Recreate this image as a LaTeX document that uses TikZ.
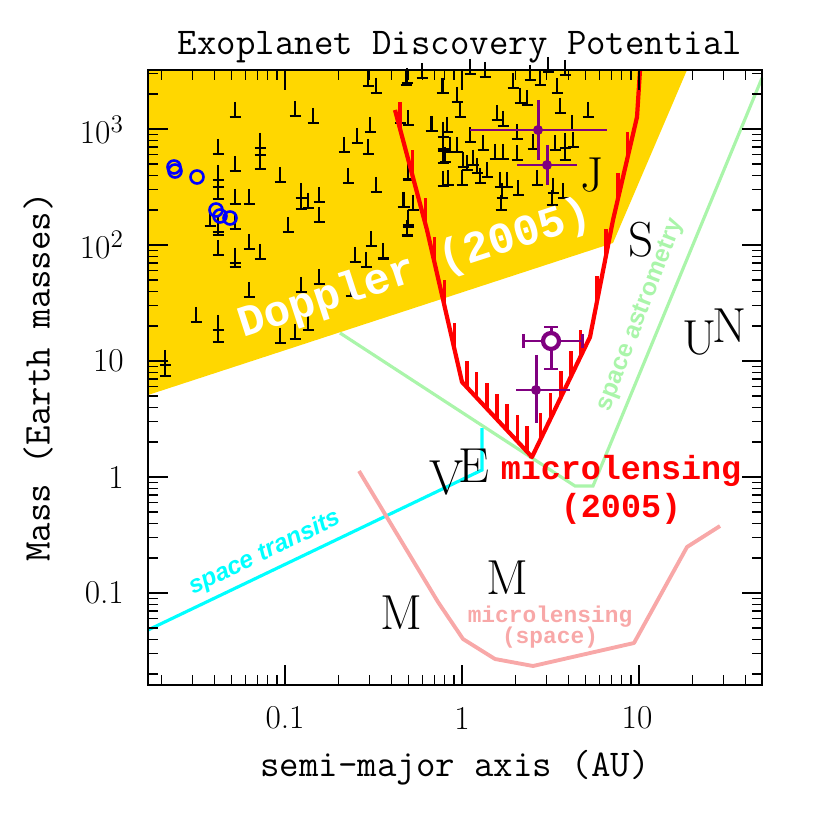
\documentclass[tikz,border=0pt]{standalone}
\usepackage{fontspec}
\newfontfamily\cour{Liberation Mono}
\newfontfamily\lsans{Liberation Sans}
\usetikzlibrary{calc}
\definecolor{dopp}{HTML}{FFD700}
\definecolor{pur}{HTML}{800080}
\definecolor{lgreen}{HTML}{AAF5AA}
\definecolor{pinkc}{HTML}{F8A8A8}
\definecolor{cyn}{HTML}{00FFFF}
\tikzset{
  mk/.style={line width=1.1pt,black},
  redc/.style={red,line width=2.4pt,line join=round},
  hatch/.style={red,line width=2pt},
  errb/.style={pur,line width=1.7pt},
  bigl/.style={font=\fontsize{28}{30}\selectfont,inner sep=0pt},
  tick/.style={line width=0.7pt},
  tl/.style={font=\fontsize{19}{21}\selectfont},
  ttl/.style={font=\ttfamily\fontsize{21.5}{24}\selectfont},
}
\begin{document}
\begin{tikzpicture}[x=0.02cm,y=-0.02cm]
\useasboundingbox (0,0) rectangle (830,830);
% green lines (under yellow)
\draw[lgreen,line width=1.8pt] (340,333) -- (575,486) -- (593,486) -- (762,78);
% Doppler region
\fill[dopp] (148,395) -- (613,243) -- (687,70) -- (148,70) -- cycle;
% markers
\foreach \x/\y in {235/117,295/116,313/123,218/154,235/171,260/169,260/148,260/155,280/182,348/183,376/192,370/132,357/143,344/152,368/154,218/180,218/187,218/199,235/204,249/204,301/198,308/208,301/209,319/202,319/222,288/232,218/232,218/235,210/226,235/229,218/255,235/263,235/267,249/249,260/259,249/297,301/292,319/284,355/262,366/267,371/246,383/259,351/296,196/322,218/330,218/342,280/343,295/339,308/330,408/179,404/207,413/210,408/225,407/236,431/131,443/151,443/163,443/186,443/137,400/123,408/125,443/93,376/93,368/86,406/85,165/365,165/376,
407/83,442/93,457/102,460/117,470/74,485/77,513/88,520/103,527/105,540/85,557/93,560/113,565/75,588/117,432/131,447/132,443/149,450/152,457/152,445/162,470/142,483/150,497/120,503/126,495/159,503/159,517/160,517/139,533/149,555/150,565/148,573/147,572/130,463/167,467/170,473/165,477/173,462/185,448/185,480/183,487/177,500/187,507/187,518/195,502/198,501/210,537/185,553/193,552/205,563/198,565/160,408/180,403/207,413/210,408/227,407/235,383/258,530/80,548/72,422/78}
  \draw[mk] (\x,\y-15) -- (\x,\y) (\x-5.5,\y) -- (\x+5.5,\y);
% blue circles
\foreach \x/\y in {174/167,175/171,197/177,216/210,220/216,230/218}
  \draw[blue,line width=1.5pt] (\x,\y) circle (6.5);
% Doppler text
\node[white,rotate=18,font=\cour\bfseries\fontsize{25}{26}\selectfont] (dop) at (415,270) {Doppler (2005)};
% cyan transits
\draw[cyn,line width=1.8pt] (148,630) -- (482,470) -- (482,428);
\node[cyn,rotate=25.6,font=\lsans\bfseries\itshape\fontsize{14}{16}\selectfont] (tr) at (265,553) {space transits};
\node[lgreen,rotate=69,font=\lsans\bfseries\fontsize{14}{16}\selectfont] (ast) at (641,315) {space astrometry};
% pink microlensing space
\draw[pinkc,line width=2.2pt,line join=round] (359,471) -- (438,602) -- (463,639) -- (495,659) -- (533,666) -- (634,643) -- (687,547) -- (720,526);
\node[pinkc,font=\cour\bfseries\fontsize{13}{14}\selectfont,align=center] (mls) at (550,627) {microlensing\\[-2pt](space)};
% red microlensing curve
\coordinate (P1) at (395,110); \coordinate (P2) at (427,230); \coordinate (P3) at (462,382);
\coordinate (P4) at (532,457); \coordinate (P5) at (590,337); \coordinate (P6) at (613,220);
\coordinate (P7) at (637,117); \coordinate (P8) at (640,70);
\foreach \a/\b/\fl in {P1/P2/{0.15,0.55,0.95},P2/P3/{0.22,0.5,0.78},P3/P4/{0.07,0.21,0.36,0.5,0.64,0.79,0.93},P4/P5/{0.15,0.32,0.5,0.67,0.84},P5/P6/{0.3,0.7},P6/P7/{0.2,0.6}}
  \foreach \f in \fl
    \draw[hatch] ($(\a)!\f!(\b)$) -- ++(0,-26);
\draw[redc] (P1) -- (P2) -- (P3) -- (P4) -- (P5) -- (P6) -- (P7) -- (P8);
\node[red,font=\cour\bfseries\fontsize{19}{22}\selectfont,align=center] (ml) at (621,490) {microlensing\\(2005)};
% purple points
\draw[errb] (470,130) -- (607,130) (538,100) -- (538,160);
\fill[pur] (538,130) circle (5);
\draw[errb] (517,165) -- (577,165) (547,145) -- (547,185);
\fill[pur] (547,165) circle (5);
\draw[errb] (523,341) -- (542,341) (560,341) -- (582,341) (551,327) -- (551,332) (551,350) -- (551,369)
  (523,334) -- (523,348) (582,334) -- (582,348) (544,327) -- (558,327) (544,369) -- (558,369);
\draw[pur,line width=2.4pt] (551,341) circle (8);
\draw[errb] (516,390) -- (570,390) (536,355) -- (536,423);
\fill[pur] (536,390) circle (5);
% planet letters
\node[bigl] (J) at (592,175) {J};
\node[bigl] (S) at (641,240) {S};
\node[bigl] (U) at (700,338) {U};
\node[bigl] (N) at (730,326) {N};
\node[bigl] (V) at (447,478) {V};
\node[bigl] (E) at (474,466) {E};
\node[bigl] (M1) at (401,613) {M};
\node[bigl] (M2) at (507,578) {M};
% axes ticks
\foreach \k in {-2,-1,0,1}{
  \foreach \m in {1,...,9}{
    \pgfmathsetmacro\px{462+177*(\k+log10(\m))}
    \pgfmathsetmacro\len{ifthenelse(\m==1,20,10)}
    \ifdim\px pt>149pt \ifdim\px pt<761pt
      \draw[tick] (\px,685) -- (\px,685-\len) (\px,70) -- (\px,70+\len);
    \fi\fi
  }}
\foreach \k in {-2,-1,0,1,2,3}{
  \foreach \m in {1,...,9}{
    \pgfmathsetmacro\py{477-116*(\k+log10(\m))}
    \pgfmathsetmacro\len{ifthenelse(\m==1,20,10)}
    \ifdim\py pt>71pt \ifdim\py pt<684pt
      \draw[tick] (148,\py) -- (148+\len,\py) (762,\py) -- (762-\len,\py);
    \fi\fi
  }}
\draw[line width=1.1pt] (148,70) rectangle (762,685);
% tick labels
\node[tl] (x1) at (285,718) {0.1};
\node[tl] (x2) at (462,718) {1};
\node[tl] (x3) at (637,718) {10};
\node[tl,anchor=east] (y1) at (130,130) {10$^3$};
\node[tl,anchor=east] (y2) at (130,245) {10$^2$};
\node[tl,anchor=east] (y3) at (130,361) {10};
\node[tl,anchor=east] (y4) at (130,477) {1};
\node[tl,anchor=east] (y5) at (130,593) {0.1};
% titles
\node[ttl] (title) at (460,47) {Exoplanet Discovery Potential};
\node[ttl] (xl) at (455,768) {semi-major axis (AU)};
\node[ttl,rotate=90] (yl) at (38,377) {Mass (Earth masses)};
\end{tikzpicture}
\end{document}
